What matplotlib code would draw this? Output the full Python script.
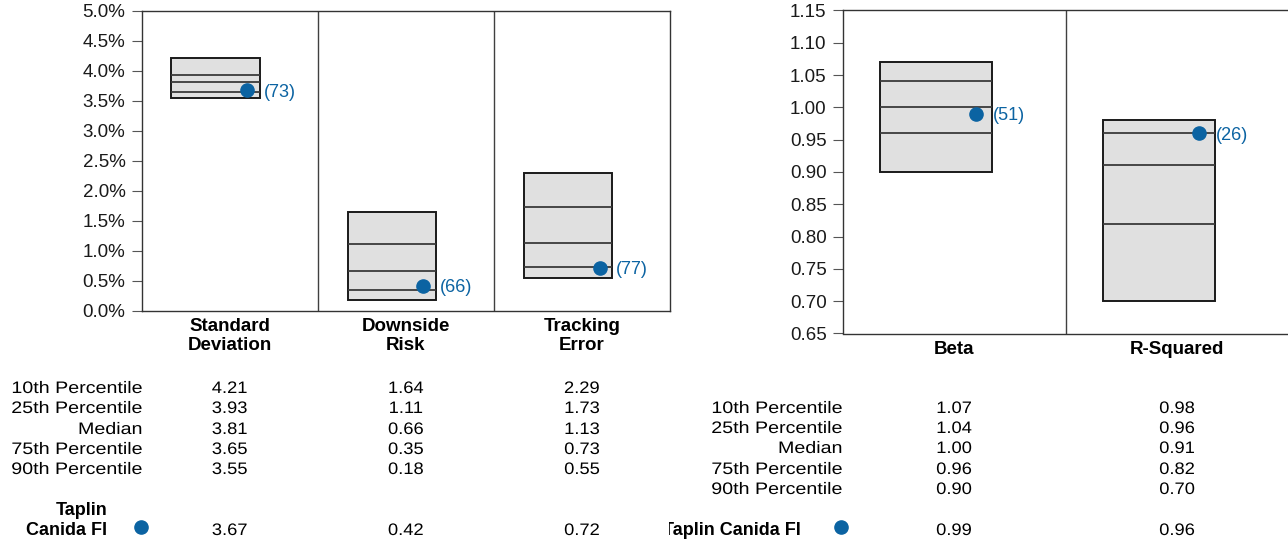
import numpy as np
import matplotlib
matplotlib.use('Agg')
import matplotlib.pyplot as plt
from matplotlib.lines import Line2D
from matplotlib.patheffects import AbstractPathEffect
from matplotlib.ticker import FormatStrFormatter, MultipleLocator
from matplotlib.transforms import Affine2D, Bbox, TransformedBbox, blended_transform_factory

plt.rcParams['font.family'] = ['Liberation Sans', 'DejaVu Sans']

# Risk statistics (percent)
risk_labels = ['Standard\nDeviation', 'Downside\nRisk', 'Tracking\nError']
risk_p10 = [4.21, 1.64, 2.29]
risk_p25 = [3.93, 1.11, 1.73]
risk_med = [3.81, 0.66, 1.13]
risk_p75 = [3.65, 0.35, 0.73]
risk_p90 = [3.55, 0.18, 0.55]
risk_fund = [3.67, 0.42, 0.72]
risk_rank = [73, 66, 77]

# Market statistics
mkt_labels = ['Beta', 'R-Squared']
mkt_p10 = [1.07, 0.98]
mkt_p25 = [1.04, 0.96]
mkt_med = [1.00, 0.91]
mkt_p75 = [0.96, 0.82]
mkt_p90 = [0.90, 0.70]
mkt_fund = [0.99, 0.96]
mkt_rank = [51, 26]

row_names = ['10th Percentile', '25th Percentile', 'Median', '75th Percentile', '90th Percentile']
fund_name = 'Taplin Canida FI'

W, H = 1288, 539
BLUE = '#0B63A2'
BOX = '#E0E0E0'
FS = 13
TFS = 12  # table text, drawn slightly widened


class Stretch(AbstractPathEffect):
    '''Widen text horizontally around its left / center / right edge.'''

    def __init__(self, sx, anchor='center'):
        super().__init__()
        self.sx = sx
        self.anchor = anchor

    def draw_path(self, renderer, gc, tpath, affine, rgbFace=None):
        bb = tpath.get_extents(affine)
        x0 = {'left': bb.x0, 'center': 0.5 * (bb.x0 + bb.x1), 'right': bb.x1}[self.anchor]
        affine = affine + Affine2D().translate(-x0, 0).scale(self.sx, 1).translate(x0, 0)
        renderer.draw_path(gc, tpath, affine, rgbFace)


fig = plt.figure(figsize=(W / 100, H / 100), dpi=100)


def px_axes(x0, y0, x1, y1):
    # pixel box with top-left origin
    return fig.add_axes([x0 / W, 1 - y1 / H, (x1 - x0) / W, (y1 - y0) / H])


def fy(y):
    return 1 - y / H


def draw_panel(ax, labels, p10, p25, med, p75, p90, fund, rank):
    n = len(labels)
    x = np.arange(n)
    heights = [a - b for a, b in zip(p10, p90)]
    ax.bar(x + 0.17, heights, bottom=p90, width=0.5, align='edge',
           color=BOX, edgecolor='#1a1a1a', linewidth=1.4, zorder=2)
    for q in (p25, med, p75):
        ax.hlines(q, x + 0.17, x + 0.67, colors='#3a3a3a', linewidth=1.3, zorder=3)
    ax.plot(x + 0.6, fund, 'o', color=BLUE, ms=9.5, zorder=4)
    for xi, yi, r in zip(x, fund, rank):
        ax.annotate(f'({r})', (xi + 0.6, yi), xytext=(12, -1.5),
                    textcoords='offset points', ha='left', va='center',
                    color=BLUE, fontsize=FS)
    for xi in x[1:]:
        ax.axvline(xi, color='#404040', linewidth=1, zorder=1)
    ax.set_xlim(0, n)
    ax.set_xticks(x + 0.5)
    ax.set_xticklabels(labels, fontweight='bold', fontsize=13.5, linespacing=1.12)
    ax.tick_params(axis='x', length=0, pad=5.5)
    ax.tick_params(axis='y', length=7, direction='out', color='#555555',
                   labelsize=13.5, pad=4.5, labelcolor='#1a1a1a')
    for sp in ax.spines.values():
        sp.set_color('#333333')
        sp.set_linewidth(1)


def draw_table(ax, label_x, row_y, fund_y, cols, fund):
    tr = blended_transform_factory(ax.transData, fig.transFigure)
    for name, y in zip(row_names, row_y):
        fig.text(label_x / W, fy(y + 6), name, ha='right', va='baseline',
                 fontsize=TFS, path_effects=[Stretch(1.18, 'right')])
    for vals, y in zip(cols + [fund], row_y + [fund_y]):
        for xi, v in enumerate(vals):
            ax.text(xi + 0.5, fy(y + 6), f'{v:.2f}', transform=tr,
                    ha='center', va='baseline', fontsize=TFS,
                    path_effects=[Stretch(1.1, 'center')])


# Left panel: risk statistics
ax1 = px_axes(141.5, 10.7, 670, 310.7)
draw_panel(ax1, risk_labels, risk_p10, risk_p25, risk_med, risk_p75, risk_p90,
           risk_fund, risk_rank)
ax1.set_ylim(0, 5)
ax1.yaxis.set_major_locator(MultipleLocator(0.5))
ax1.yaxis.set_major_formatter(FormatStrFormatter('%.1f%%'))
draw_table(ax1, 142.5, [387, 407, 428, 448, 468], 529,
           [risk_p10, risk_p25, risk_med, risk_p75, risk_p90], risk_fund)
fig.text(107 / W, fy(515), 'Taplin', ha='right', va='baseline',
         fontsize=FS, fontweight='bold')
fig.text(107 / W, fy(535), 'Canida FI', ha='right', va='baseline',
         fontsize=FS, fontweight='bold')
fig.add_artist(Line2D([141 / W], [fy(527)], marker='o', ms=9.5, color=BLUE,
                      linestyle='none', transform=fig.transFigure))

# Right panel: market statistics
ax2 = px_axes(842.5, 10.4, 1288.5, 333.5)
draw_panel(ax2, mkt_labels, mkt_p10, mkt_p25, mkt_med, mkt_p75, mkt_p90,
           mkt_fund, mkt_rank)
ax2.set_ylim(0.65, 1.15)
ax2.yaxis.set_major_locator(MultipleLocator(0.05))
ax2.yaxis.set_major_formatter(FormatStrFormatter('%.2f'))
ax2.spines['right'].set_visible(False)
draw_table(ax2, 842.5, [407, 427, 447, 468, 488], 529,
           [mkt_p10, mkt_p25, mkt_med, mkt_p75, mkt_p90], mkt_fund)
t = fig.text(801 / W, fy(535), fund_name, ha='right', va='baseline',
             fontsize=FS, fontweight='bold')
t.set_clip_box(TransformedBbox(Bbox([[669 / W, 0], [1, 1]]), fig.transFigure))
t.set_clip_on(True)
fig.add_artist(Line2D([841 / W], [fy(527)], marker='o', ms=9.5, color=BLUE,
                      linestyle='none', transform=fig.transFigure))

fig.savefig('out.png', dpi=100)
